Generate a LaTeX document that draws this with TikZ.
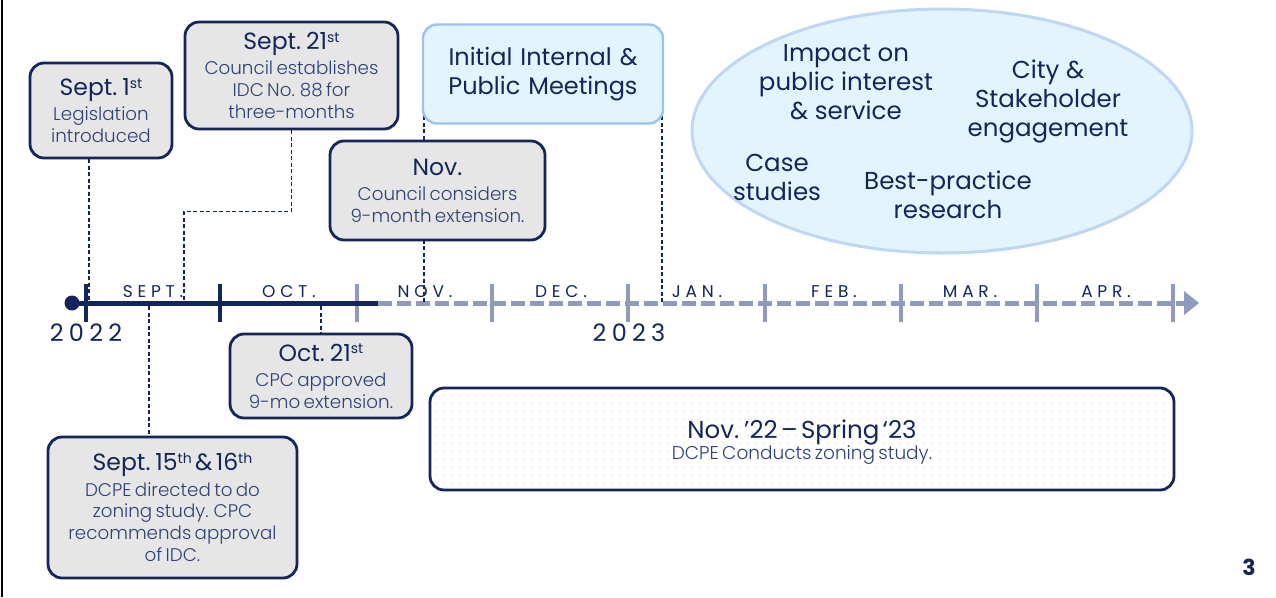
\documentclass[tikz,border=0pt]{standalone}
\usepackage{fontspec}
\setmainfont{Poppins}
\newfontfamily\lightfont{Poppins Light}
\usetikzlibrary{shapes.geometric}
\definecolor{navy}{HTML}{13255A}
\definecolor{bodyblue}{HTML}{2E4178}
\definecolor{axislight}{HTML}{8E9BBD}
\definecolor{boxgray}{HTML}{E6E6E6}
\definecolor{skyfill}{HTML}{E2F4FD}
\definecolor{skyline}{HTML}{9DC1F3}
\definecolor{ovalline}{HTML}{BFD6F6}
\definecolor{dotgray}{HTML}{E2E6EE}
\newcommand\ord[1]{\raisebox{0.55ex}{\fontsize{14}{14}\selectfont #1}}
\newcommand\hd{\fontsize{23.5}{27}\selectfont\color{navy}}
\newcommand\bd{\lightfont\fontsize{18.3}{21.8}\selectfont\color{bodyblue}}
\newcommand\ov{\fontsize{24.5}{29}\selectfont\color{navy}}
\newcommand\gap{\par\vspace{3.5pt}}
\begin{document}
\begin{tikzpicture}[x=1pt,y=-1pt,
  evbox/.style={draw=navy, line width=2.8pt, fill=boxgray, rounded corners=14pt,
    align=center, inner sep=0pt},
  skybox/.style={draw=skyline, line width=2.4pt, fill=skyfill, rounded corners=14pt,
    align=center, inner sep=0pt},
  link/.style={draw=navy, line width=1.2pt, dash pattern=on 4pt off 2.5pt},
  month/.style={anchor=base, font=\fontsize{17}{18}\selectfont\addfontfeature{LetterSpace=28}, text=navy},
  yearlbl/.style={anchor=base, font=\fontsize{24}{26}\selectfont\addfontfeature{LetterSpace=22}, text=navy},
  ovaltext/.style={align=center, font=\ov, inner sep=0pt},
  tickdark/.style={draw=navy, line width=4pt},
  ticklight/.style={draw=axislight, line width=4pt}]
\useasboundingbox (0,0) rectangle (1276,597);

% left page rule
\draw[line width=2pt] (1.5,0) -- (1.5,597);

% ---- timeline axis ----
\coordinate (ax0) at (72,303);
\coordinate (axsplit) at (378,303);
\coordinate (axend) at (1184,303);
\draw[axislight, line width=5pt, dash pattern=on 14pt off 5pt] (axsplit) -- (axend);
\fill[axislight] (1184,291) -- (1199,303) -- (1184,315) -- cycle;
\foreach \x in {357,492,628,765,901,1037,1173}
  \draw[ticklight] (\x,284) -- (\x,322);
\draw[navy, line width=5pt] (ax0) -- (axsplit);
\foreach \x in {86,220}
  \draw[tickdark] (\x,284) -- (\x,322);
\fill[navy] (ax0) circle (7.5);

% month labels
\node[month] (mSep) at (153,297) {SEPT.};
\node[month] (mOct) at (289,297) {OCT.};
\node[month] (mNov) at (425,297) {NOV.};
\node[month] (mDec) at (561,297) {DEC.};
\node[month] (mJan) at (697,297) {JAN.};
\node[month] (mFeb) at (834,297) {FEB.};
\node[month] (mMar) at (970,297) {MAR.};
\node[month] (mApr) at (1106,297) {APR.};
\node[yearlbl] (y22) at (86,341) {2022};
\node[yearlbl] (y23) at (629,341) {2023};

% anchor points on the axis for the event links
\coordinate (tS1) at (89,300);
\coordinate (tS21) at (184,300);
\coordinate (tS15) at (149,306);
\coordinate (tO21) at (321,306);
\coordinate (tMeetA) at (424,302);
\coordinate (tMeetB) at (662,302);

% ---- upper events ----
\node[evbox, minimum width=142, minimum height=95, text width=140] (s1) at (101,110.5)
  {{\hd Sept. 1\ord{st}\gap}{\bd Legislation\\introduced\par}};
\node[evbox, minimum width=213, minimum height=107, text width=210] (s21) at (291.5,75.5)
  {{\hd Sept. 21\ord{st}\gap}{\bd Council establishes\\IDC No. 88 for\\three-months\par}};

% meetings window
\draw[link] (tMeetA) -- (424,112);
\draw[link] (tMeetB) -- (662,112);
\node[skybox, minimum width=240, minimum height=99, text width=236, font=\fontsize{24}{29}\selectfont, text=navy] (meet) at (543,74)
  {Initial Internal \&\\Public Meetings};

\node[evbox, minimum width=215, minimum height=99, text width=212] (nov) at (437.5,190.5)
  {{\hd Nov.\gap}{\bd Council considers\\9-month extension.\par}};

% ---- lower events ----
\node[evbox, minimum width=182, minimum height=84, text width=180] (o21) at (321,376)
  {{\hd Oct. 21\ord{st}\gap}{\bd CPC approved\\9-mo extension.\par}};
\node[evbox, minimum width=249, minimum height=141, text width=246] (s15) at (172.5,507.5)
  {{\hd Sept. 15\ord{th} \& 16\ord{th}\gap}{\bd DCPE directed to do\\zoning study. CPC\\recommends approval\\of IDC.\par}};

% study period box with a faint dot texture
\node[evbox, fill=white, minimum width=744, minimum height=102] (study) at (802,439) {};
\begin{scope}
  \clip[rounded corners=13pt] (432,391) rectangle (1172,487);
  \foreach \i in {0,...,92} \foreach \j in {0,...,11}
    \fill[dotgray] (436+8*\i,395+8*\j) circle (0.8);
\end{scope}
\node[align=center, inner sep=0pt, text width=400] (studytxt) at (802,442)
  {{\fontsize{24.5}{26}\selectfont\color{navy}Nov. ’22 – Spring ‘23\par}{\lightfont\fontsize{18.5}{21}\selectfont\color{bodyblue}DCPE Conducts zoning study.\par}};

% ---- event links ----
\draw[link] (s1.south -| tS1) -- (tS1);
\draw[link] (s21.south) -- ++(0,81) -| (tS21);
\draw[link] (tS15) -- (s15.north -| tS15);
\draw[link] (tO21) -- (o21.north);

% ---- research themes ----
\node[ellipse, draw=ovalline, line width=3pt, fill=skyfill, minimum width=500, minimum height=244] (oval) at (942,131) {};
\node[ovaltext] (themeA) at (846,82) {Impact on\\public interest\\\& service};
\node[ovaltext] (themeB) at (1048,101) {City \&\\Stakeholder\\engagement};
\node[ovaltext] (themeC) at (777,177.5) {Case\\studies};
\node[ovaltext] (themeD) at (948,194.5) {Best-practice\\research};

% page number
\node[font=\bfseries\fontsize{22}{24}\selectfont, text=navy, inner sep=0pt] (pg) at (1249,567) {3};
\end{tikzpicture}
\end{document}
